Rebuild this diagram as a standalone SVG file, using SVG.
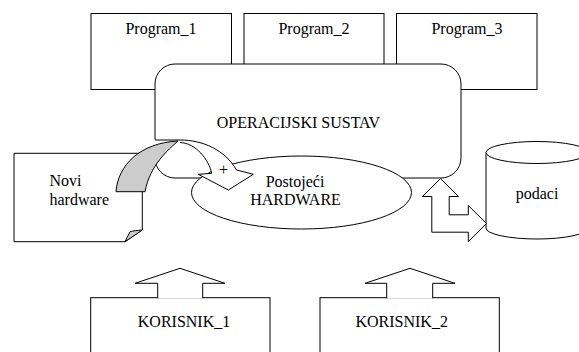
<svg xmlns="http://www.w3.org/2000/svg" width="579" height="352" viewBox="0 0 579 352">
  <style>
    .box { fill: #ffffff; stroke: #000000; stroke-width: 1; }
    .line { fill: none; stroke: #000000; stroke-width: 1; }
    .shade { fill: #cccccc; stroke: #000000; stroke-width: 1; }
    .lbl { font-family: "Liberation Serif", "Times New Roman", serif; font-size: 16px; fill: #000000; }
    .mid { text-anchor: middle; }
  </style>

  <!-- application programs -->
  <g id="program1">
    <rect class="box" x="91" y="13.5" width="140.5" height="76"/>
    <text class="lbl mid" x="161" y="34">Program_1</text>
  </g>
  <g id="program2">
    <rect class="box" x="244" y="13.5" width="140" height="76"/>
    <text class="lbl mid" x="314" y="34">Program_2</text>
  </g>
  <g id="program3">
    <rect class="box" x="396.5" y="13.5" width="140.5" height="76"/>
    <text class="lbl mid" x="467" y="34">Program_3</text>
  </g>

  <!-- operating system -->
  <g id="os">
    <rect class="box" x="155" y="64" width="306" height="114" rx="20" ry="20"/>
    <text class="lbl mid" x="298.5" y="128">OPERACIJSKI SUSTAV</text>
  </g>

  <!-- existing hardware -->
  <g id="hardware">
    <ellipse class="box" cx="301.5" cy="192.5" rx="110" ry="36.5"/>
    <text class="lbl mid" x="295" y="187">Postojeći</text>
    <text class="lbl mid" x="295.5" y="205">HARDWARE</text>
  </g>

  <!-- new hardware: sheet with a curled corner -->
  <g id="novi-hardware">
    <path class="box" d="M14,153.3 H142.3 V230 L125,241.7 H14 Z"/>
    <path class="shade" d="M142.3,230 C137,230.5 133,230.8 130,231.7 C128.5,235 126.5,238.5 125,241.7 Z"/>
    <text class="lbl" x="49.5" y="185.5">Novi</text>
    <text class="lbl" x="49.5" y="205">hardware</text>
  </g>

  <!-- data store -->
  <g id="podaci">
    <path class="box" d="M486,152.5 V228 A51,11 0 0 0 588,228 V152.5"/>
    <ellipse class="box" cx="537" cy="152.5" rx="51" ry="11"/>
    <text class="lbl mid" x="537" y="198.5">podaci</text>
  </g>

  <!-- users -->
  <g id="korisnik1">
    <rect class="box" x="90.7" y="297.7" width="179.3" height="70"/>
    <text class="lbl mid" x="184" y="326.5">KORISNIK_1</text>
  </g>
  <g id="korisnik2">
    <rect class="box" x="320" y="297.7" width="179.3" height="70"/>
    <text class="lbl mid" x="401.7" y="326.5">KORISNIK_2</text>
  </g>

  <g id="connectors">
    <!-- curved arrow: new hardware joins the existing hardware -->
    <path fill="#ffffff" stroke="none" d="M150,139.5 L180,140 C203,140 225,150 236.5,170 L253.3,174.3 L228.3,190 L198.3,174.3 L211.7,173.3 C209,160 196,143 180,142.5 L165,151 L150,151 Z"/>
    <path class="line" d="M155,140 L180,140 C203,140 225,150 236.5,170 L253.3,174.3 L228.3,190 L198.3,174.3 L211.7,173.3 C209,160 196,143 180,142.5"/>
    <path class="shade" d="M116,191.7 C118,165 140,143 178,141 C168,150 150,165 145,191.7 Z"/>
    <text class="lbl mid" x="223.5" y="175">+</text>

    <!-- two-way arrow between the OS and the data store -->
    <path class="box" d="M440.5,178.5 L458.5,196.5 L449.2,196.5 L449.2,214.8 L468.3,214.8 L468.3,205.5 L486.5,223.5 L468.3,241.5 L468.3,232.2 L431.8,232.2 L431.8,196.5 L422.5,196.5 Z"/>

    <!-- users act on the system -->
    <path class="box" d="M157.7,298.2 V283.3 H135 L180,268.3 L225,283.3 H202.7 V298.2"/>
    <path class="box" d="M386.7,298.2 V283.3 H365 L410,268.3 L455,283.3 H432.7 V298.2"/>
  </g>
</svg>
